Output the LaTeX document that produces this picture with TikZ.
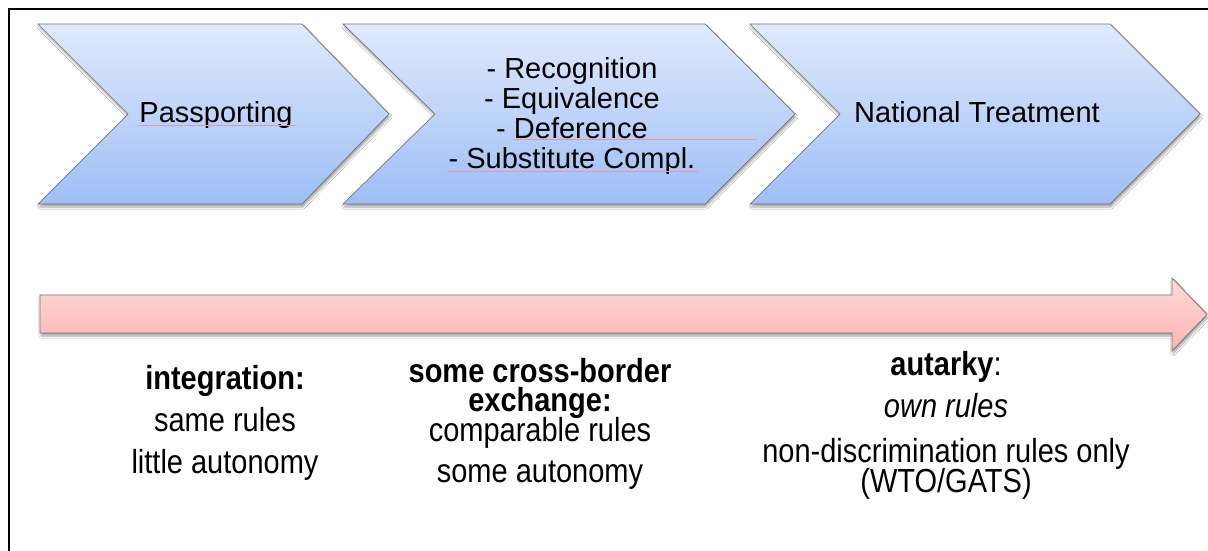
\documentclass[tikz,border=0pt]{standalone}
\usepackage{fontspec}
\usepackage{graphicx}
\setmainfont{Liberation Sans}
\usetikzlibrary{shadows.blur}
\definecolor{blueTop}{RGB}{224,234,252}
\definecolor{blueBot}{RGB}{158,190,246}
\definecolor{pinkTop}{RGB}{255,218,218}
\definecolor{pinkBot}{RGB}{255,178,178}
\definecolor{edgegray}{RGB}{115,115,115}
\definecolor{spellred}{RGB}{235,150,165}
\newcommand{\myvst}[1]{\scalebox{1}[1.15]{#1}}
\tikzset{
  chev/.style={draw=edgegray, line width=0.7pt, top color=blueTop, bottom color=blueBot,
    blur shadow={shadow xshift=1pt, shadow yshift=-3pt, shadow opacity=35, shadow blur steps=6}},
  bararrow/.style={draw=edgegray, line width=0.7pt, top color=pinkTop, bottom color=pinkBot,
    blur shadow={shadow xshift=1pt, shadow yshift=-3pt, shadow opacity=35, shadow blur steps=6}},
  toptext/.style={font=\fontsize{29}{32}\selectfont, anchor=base, inner sep=0pt},
  bottext/.style={font=\fontsize{29}{32}\selectfont, anchor=base, inner sep=0pt},
  spell/.style={draw=spellred, line width=0.8pt}
}
\begin{document}
\begin{tikzpicture}[x=1pt,y=-1pt]
\useasboundingbox (0,0) rectangle (1208,550);
\fill[white] (0,0) rectangle (1208,550);
% frame
\draw[line width=2pt] (9,551) -- (9,9) -- (1209,9);
% chevrons
\path[chev] (38,24) -- (302,24) -- (389,114) -- (302,204) -- (38,204) -- (128,114) -- cycle;
\path[chev] (343,24) -- (705,24) -- (795,114) -- (705,204) -- (343,204) -- (435,114) -- cycle;
\path[chev] (750,24) -- (1110,24) -- (1200,114) -- (1110,204) -- (750,204) -- (840,114) -- cycle;
% big arrow
\path[bararrow] (40,295) -- (1172,295) -- (1172,278) -- (1207,314.5) -- (1172,351) -- (1172,333) -- (40,333) -- cycle;
% chevron texts
\node[toptext] (pass) at (216,122) {Passporting};
\node[toptext] (rec) at (572,78) {- Recognition};
\node[toptext] (equ) at (572,108) {- Equivalence};
\node[toptext] (def) at (572,138) {- Deference};
\node[toptext] (sub) at (572,168) {- Substitute Compl.};
\node[toptext] (nat) at (977,122) {National Treatment};
% spell-check underlines
\draw[spell] (138,125.5) -- (296,125.5);
\draw[spell] (513,139.5) -- (757,139.5);
\draw[spell] (447,171.5) -- (698,171.5);
% bottom texts
\node[bottext] (integ) at (225,389) {\myvst{\bfseries integration:}};
\node[bottext] (same) at (225,431) {\myvst{same rules}};
\node[bottext] (little) at (225,473) {\myvst{little autonomy}};
\node[bottext] (cross) at (540,382) {\myvst{\bfseries some cross-border}};
\node[bottext] (exch) at (540,411) {\myvst{\bfseries exchange:}};
\node[bottext] (comp) at (540,441) {\myvst{comparable rules}};
\node[bottext] (some) at (540,482) {\myvst{some autonomy}};
\node[bottext] (aut) at (946,375) {\myvst{\textbf{autarky}:}};
\node[bottext] (own) at (946,417) {\myvst{\itshape own rules}};
\node[bottext] (nond) at (946,462) {\myvst{non-discrimination rules only}};
\node[bottext] (wto) at (946,492) {\myvst{(WTO/GATS)}};
\end{tikzpicture}
\end{document}
